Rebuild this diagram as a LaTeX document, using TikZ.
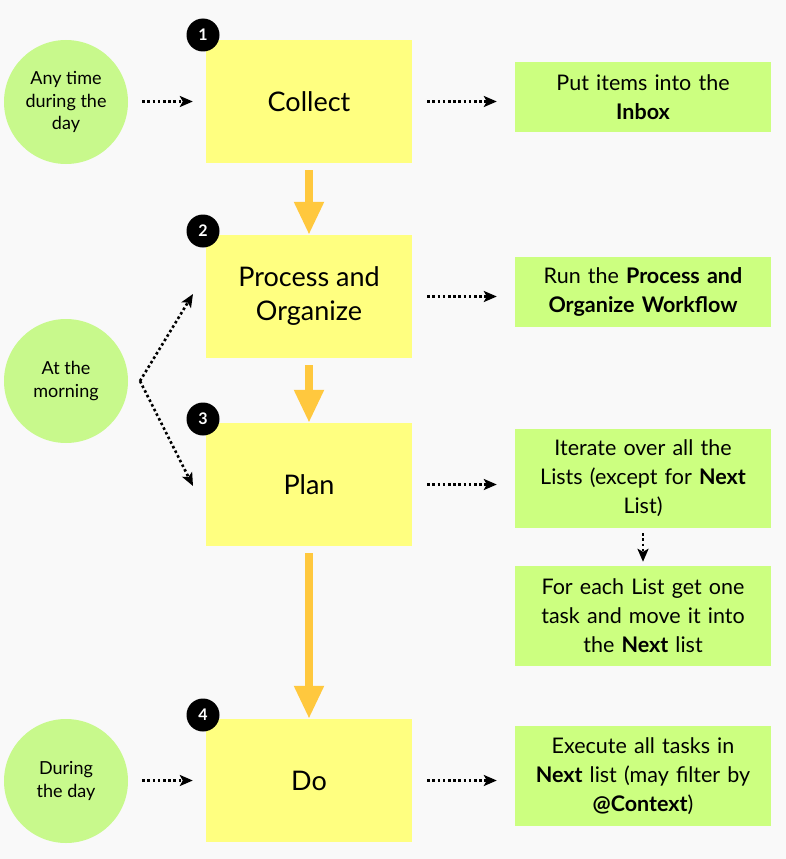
\documentclass[tikz,border=0pt]{standalone}
\usepackage{fontspec}
\setmainfont{Lato}
\usetikzlibrary{arrows.meta}
\definecolor{bg}{HTML}{F9F9F9}
\definecolor{ybox}{HTML}{FFFF80}
\definecolor{gbox}{HTML}{CCFF80}
\definecolor{gcirc}{HTML}{C8F98C}
\definecolor{orng}{HTML}{FFC83E}
\tikzset{
  stepbox/.style={fill=ybox, minimum width=206pt, minimum height=123pt, inner sep=0pt, align=center, font=\fontsize{27}{34}\selectfont},
  notebox/.style={fill=gbox, minimum width=256pt, inner sep=0pt, text width=250pt, align=center, font=\fontsize{21.5}{29}\selectfont},
  timecirc/.style={circle, fill=gcirc, minimum size=124pt, inner sep=0pt, align=center, font=\fontsize{18}{22.5}\selectfont},
  numcirc/.style={circle, fill=black, minimum size=33pt, inner sep=0pt, text=white, font=\fontsize{16}{16}\selectfont\bfseries},
  bigarrow/.style={draw=orng, line width=8pt, -{Triangle[width=28pt,length=33pt]}},
  dotarrow/.style={line width=2.6pt, dash pattern=on 2.6pt off 2.6pt, -{Stealth[length=13pt,width=11pt,inset=3pt]}}
}
\begin{document}
\begin{tikzpicture}[x=1pt,y=-1pt]
\fill[bg] (0,0) rectangle (786,859);
\useasboundingbox (0,0) rectangle (786,859);
% step boxes
\node[stepbox] (collect) at (309,101.5) {Collect};
\node[stepbox] (process) at (309,296.5) {Process and\\Organize};
\node[stepbox] (plan) at (309,484.5) {Plan};
\node[stepbox] (do) at (309,780.5) {Do};
% number badges
\node[numcirc] (n1) at (203,35) {1};
\node[numcirc] (n2) at (203,231) {2};
\node[numcirc] (n3) at (203,419) {3};
\node[numcirc] (n4) at (203,715) {4};
% time circles
\node[timecirc] (t1) at (66,102) {Any time\\during the\\day};
\node[timecirc] (t2) at (66,381) {At the\\morning};
\node[timecirc] (t3) at (66,781) {During\\the day};
% note boxes
\node[notebox, minimum height=70pt] (b1) at (643,97) {Put items into the\\\textbf{Inbox}};
\node[notebox, minimum height=70pt] (b2) at (643,292) {Run the \textbf{Process and}\\\textbf{Organize Workflow}};
\node[notebox, minimum height=99pt] (b3) at (643,478.5) {Iterate over all the\\Lists (except for \textbf{Next}\\List)};
\node[notebox, minimum height=100pt] (b4) at (643,616) {For each List get one\\task and move it into\\the \textbf{Next} list};
\node[notebox, minimum height=100pt] (b5) at (643,776) {Execute all tasks in\\\textbf{Next} list (may filter by\\\textbf{@Context})};
% orange arrows
\draw[bigarrow] ([yshift=-7pt]collect.south) -- (process.north);
\draw[bigarrow] ([yshift=-7pt]process.south) -- (plan.north);
\draw[bigarrow] ([yshift=-7pt]plan.south) -- (do.north);
% dotted arrows left
\draw[dotarrow] ([xshift=14pt]t1.east |- collect.west) -- ([xshift=-13pt]collect.west);
\draw[dotarrow] ([xshift=14pt]t3.east |- do.west) -- ([xshift=-13pt]do.west);
\coordinate (fork) at (140,381);
\draw[dotarrow] (fork) -- (193,294);
\draw[dotarrow] (fork) -- (193,486);
% dotted arrows right
\draw[dotarrow] ([xshift=15pt]collect.east) -- ([xshift=-18pt]collect.east -| b1.west);
\draw[dotarrow] ([xshift=15pt]process.east) -- ([xshift=-18pt]process.east -| b2.west);
\draw[dotarrow] ([xshift=15pt]plan.east) -- ([xshift=-18pt]plan.east -| b3.west);
\draw[dotarrow] ([xshift=15pt]do.east) -- ([xshift=-18pt]do.east -| b5.west);
\draw[dotarrow] ([yshift=-5pt]b3.south) -- ([yshift=4pt]b4.north);
\end{tikzpicture}
\end{document}
